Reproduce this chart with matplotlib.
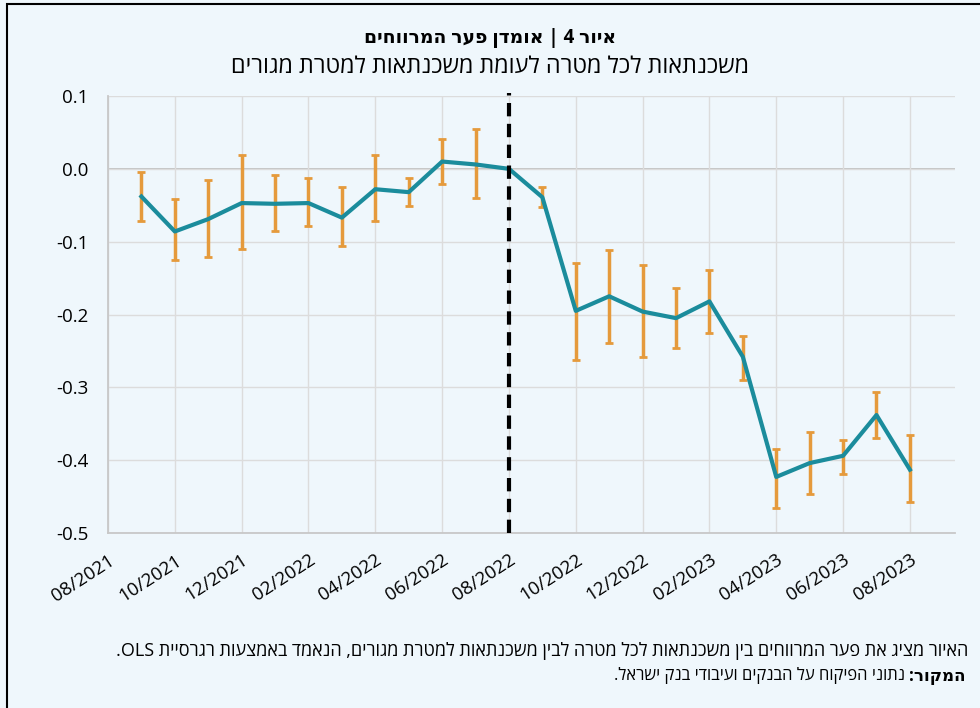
import re
import matplotlib
matplotlib.use("Agg")
import matplotlib.pyplot as plt
import numpy as np
from matplotlib.patches import Rectangle

plt.rcParams['font.family'] = ['Open Sans', 'DejaVu Sans']

# months after 08/2021 (08/2022 is the reference month)
MONTHS = list(range(1, 25))
GAP = [-0.038, -0.086, -0.069, -0.047, -0.048, -0.047, -0.067, -0.028, -0.032, 0.010, 0.006, 0.000,
       -0.039, -0.195, -0.175, -0.196, -0.205, -0.182, -0.258, -0.423, -0.404, -0.394, -0.338, -0.413]
UPPER = [-0.004, -0.042, -0.015, 0.019, -0.008, -0.013, -0.025, 0.019, -0.012, 0.041, 0.055, np.nan,
         -0.025, -0.129, -0.111, -0.132, -0.163, -0.139, -0.229, -0.384, -0.362, -0.372, -0.307, -0.366]
LOWER = [-0.072, -0.125, -0.121, -0.110, -0.086, -0.078, -0.106, -0.072, -0.051, -0.021, -0.040, np.nan,
         -0.053, -0.262, -0.239, -0.259, -0.246, -0.226, -0.290, -0.466, -0.446, -0.419, -0.369, -0.458]
TICK_POS = list(range(0, 25, 2))
TICK_LABELS = ["08/2021", "10/2021", "12/2021", "02/2022", "04/2022", "06/2022", "08/2022",
               "10/2022", "12/2022", "02/2023", "04/2023", "06/2023", "08/2023"]
Y_TICKS = [-0.5, -0.4, -0.3, -0.2, -0.1, 0.0, 0.1]
Y_LABELS = ["-0.5", "-0.4", "-0.3", "-0.2", "-0.1", "0.0", "0.1"]
REF_MONTH = 12

TITLE = "איור 4 | אומדן פער המרווחים"
SUBTITLE = "משכנתאות לכל מטרה לעומת משכנתאות למטרת מגורים"
NOTE = "האיור מציג את פער המרווחים בין משכנתאות לכל מטרה לבין משכנתאות למטרת מגורים, הנאמד באמצעות רגרסיית OLS."
SOURCE_HEAD = "המקור:"
SOURCE_TEXT = "נתוני הפיקוח על הבנקים ועיבודי בנק ישראל."

BG = "#EFF7FC"
TEAL = "#1B8C9C"
ORANGE = "#E59A3C"


def rtl(s):
    """Reverse Hebrew for left-to-right drawing, keeping Latin/digit runs readable."""
    r = s[::-1]
    return re.sub(r'[A-Za-z0-9/]+', lambda m: m.group(0)[::-1], r)


fig = plt.figure(figsize=(9.8, 7.08), dpi=100, facecolor=BG)
ax = fig.add_axes([108 / 980, 1 - 533 / 708, (955 - 108) / 980, (533 - 96) / 708])
ax.set_facecolor(BG)

# border of the box
fig.patches.append(Rectangle((7 / 980, -0.1), 1.2, 1.1 - 4 / 708, transform=fig.transFigure,
                             fill=False, edgecolor="black", linewidth=1.5))

gap = np.array(GAP)
up = np.array(UPPER)
lo = np.array(LOWER)
ok = ~np.isnan(up)
m = np.array(MONTHS)
ax.errorbar(m[ok], gap[ok], yerr=[gap[ok] - lo[ok], up[ok] - gap[ok]], fmt="none",
            ecolor=ORANGE, elinewidth=2.5, capsize=3, capthick=2, zorder=3)
ax.plot(MONTHS, GAP, color=TEAL, linewidth=3, zorder=4)
ax.axvline(REF_MONTH, ymin=0, ymax=1.007, color="black", linewidth=3, dashes=(3.2, 1.8),
           zorder=5, clip_on=False)

ax.set_xlim(0, 25.35)
ax.set_ylim(-0.5, 0.1)
ax.set_xticks(TICK_POS)
ax.set_xticklabels(TICK_LABELS, rotation=33, ha="right", rotation_mode="anchor", fontsize=13.5)
ax.set_yticks(Y_TICKS)
ax.set_yticklabels(Y_LABELS, fontsize=13.5)
ax.tick_params(axis="y", length=0, pad=14)
ax.tick_params(axis="x", length=0, pad=13)
ax.grid(True, color="#DCDCDC", linewidth=1)
ax.axhline(0, color="#BFBFBF", linewidth=1.3, zorder=1)
for s in ["top", "right"]:
    ax.spines[s].set_visible(False)
for s in ["left", "bottom"]:
    ax.spines[s].set_color("#C8C8C8")
    ax.spines[s].set_linewidth(1.3)

fig.text(0.5, 1 - 38 / 708, rtl(TITLE), ha="center", va="center", fontsize=13.5, fontweight="bold")
fig.text(0.5, 1 - 67 / 708, rtl(SUBTITLE), ha="center", va="center", fontsize=16.8)

fig.text(968 / 980, 1 - 651 / 708, rtl(NOTE), ha="right", va="center", fontsize=13)
head = fig.text(965 / 980, 1 - 676 / 708, rtl(SOURCE_HEAD), ha="right", va="center",
                fontsize=12, fontweight="bold")
fig.canvas.draw()
bb = head.get_window_extent()
fig.text((bb.x0 - 4) / 980, 1 - 676 / 708, rtl(SOURCE_TEXT), ha="right", va="center", fontsize=12)

fig.savefig("out.png", dpi=100, facecolor=BG)
